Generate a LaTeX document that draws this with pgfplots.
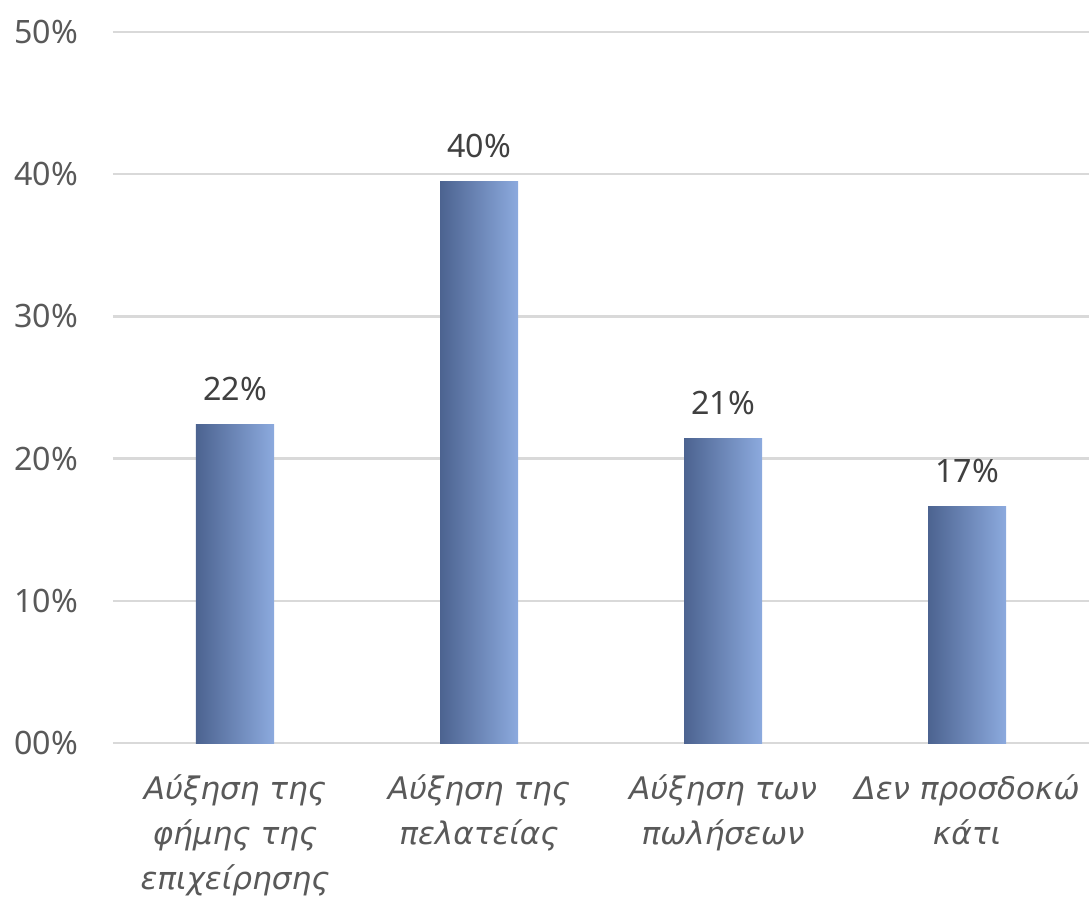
\documentclass[border=0pt]{standalone}
\usepackage{fontspec}
\setmainfont{Noto Sans}
\newfontfamily\catfont{DejaVu Sans}
\usepackage{pgfplots}
\usetikzlibrary{calc}
\pgfplotsset{compat=1.18}
\definecolor{gridc}{HTML}{D9D9D9}
\definecolor{tickc}{HTML}{595959}
\definecolor{labc}{HTML}{404040}
\definecolor{barL}{HTML}{4C6390}
\definecolor{barR}{HTML}{8CAADE}
\begin{document}
\begin{tikzpicture}
\def\u{0.36pt}
\begin{axis}[
  name=ax,
  scale only axis,
  width=351.36pt, height=255.96pt,
  xmin=-0.5, xmax=3.5, ymin=0, ymax=50,
  axis line style={draw=none},
  ytick={0,10,20,30,40,50},
  yticklabels={00\%,10\%,20\%,30\%,40\%,50\%},
  xtick={0,1,2,3},
  xticklabels={Αύξηση της\\φήμης της\\επιχείρησης, Αύξηση της\\πελατείας, Αύξηση των\\πωλήσεων, Δεν προσδοκώ\\κάτι},
  major tick length=0pt,
  ymajorgrids,
  grid style={gridc, line width=0.8pt},
  yticklabel style={font=\fontsize{11.6}{14}\selectfont, text=tickc, xshift=-9pt},
  xticklabel style={font=\catfont\fontsize{11.2}{16.2}\selectfont\itshape, text=tickc, align=center, yshift=-8pt},
  clip=false,
  /pgf/number format/assume math mode=true,
  ybar, bar width=28.08pt, bar shift=0pt,
  nodes near coords={\pgfmathprintnumber[fixed,precision=0]{\pgfplotspointmeta}\%},
  every node near coord/.append style={font=\fontsize{11.6}{14}\selectfont, text=labc, anchor=south, yshift=5pt},
]
\addplot[draw=none, left color=barL, right color=barR] coordinates {(0,22.4)};
\addplot[draw=none, left color=barL, right color=barR] coordinates {(1,39.5)};
\addplot[draw=none, left color=barL, right color=barR] coordinates {(2,21.4)};
\addplot[draw=none, left color=barL, right color=barR] coordinates {(3,16.6)};
\end{axis}
\pgfresetboundingbox
\path ($(ax.south west)+(-113*\u,-164*\u)$) rectangle ($(ax.north east)+(0,32*\u)$);
\end{tikzpicture}
\end{document}
